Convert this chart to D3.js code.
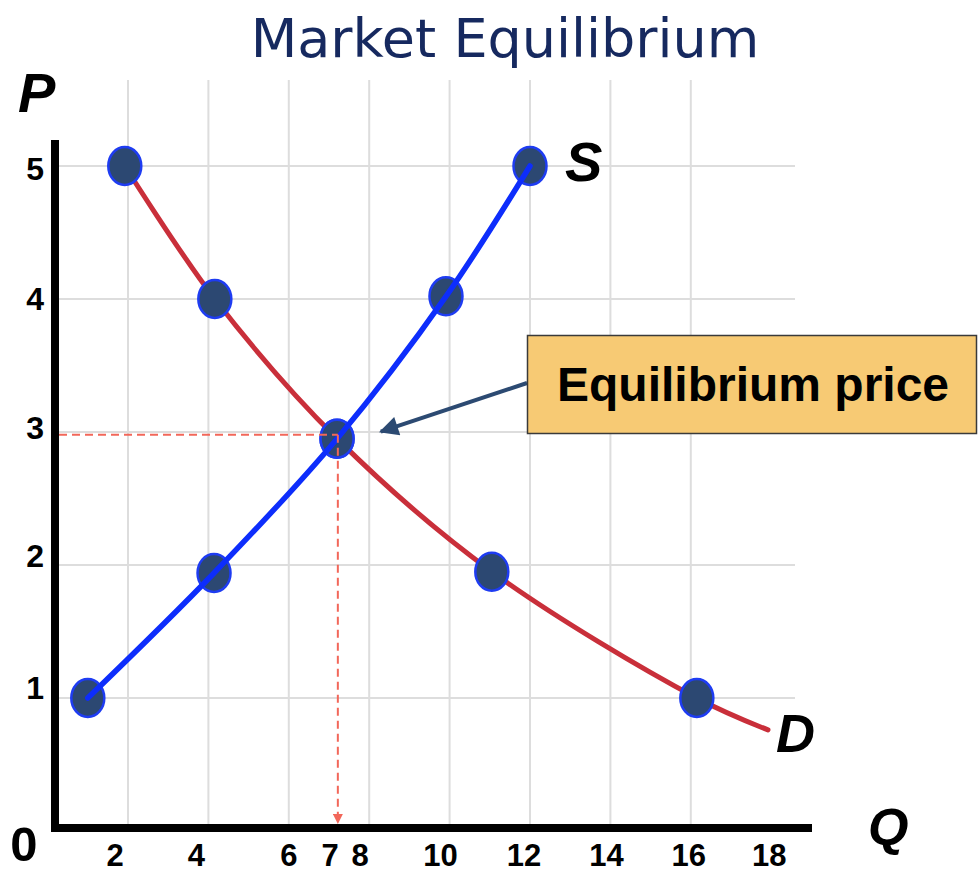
<!DOCTYPE html>
<html>
<head>
<meta charset="utf-8">
<script src="https://cdn.jsdelivr.net/npm/d3@7"></script>
<style>
  html, body { margin: 0; padding: 0; background: #fff; }
  svg { display: block; }
</style>
</head>
<body>
<svg id="chart" width="979" height="874"></svg>
<script>
// ---- data ----
const supplyQ = [1.0, 4.14, 7.2, 9.91, 12.0];
const supplyP = [1.0, 1.94, 2.95, 4.02, 5.0];
const demandQ = [1.92, 4.16, 7.2, 11.05, 16.15];
const demandP = [5.0, 4.0, 2.95, 1.95, 1.0];
// demand curve runs on past its last marked point
const demandTailQ = [17.92];
const demandTailP = [0.76];
const equilibriumQ = 7.22;
const equilibriumP = 2.98;
const xTicks = [2, 4, 6, 7, 8, 10, 12, 14, 16, 18];
const yTicks = [1, 2, 3, 4, 5];
const xGrid = [2, 4, 6, 8, 10, 12, 14, 16];
const yGrid = [1, 2, 3, 4, 5];

// ---- layout ----
const svg = d3.select("#chart");
const x = d3.scaleLinear().domain([0, 18]).range([47.6, 771.2]);
const y = d3.scaleLinear().domain([0, 5]).range([831, 166]);
const axisX = 55, axisY = 828, axisTop = 140, axisRight = 812;
const gridTop = 80, gridRight = 795;

// small hand offsets for tick labels
const xLabelNudge = {2: -13, 4: -12, 6: 0, 7: 1, 8: -9, 10: -9, 12: -6, 14: -4, 16: -2, 18: -2};
const yLabelNudge = {1: -11, 2: -10, 3: -5, 4: -1, 5: 2};

const font = "'Liberation Sans', Arial, Helvetica, sans-serif";

// title
svg.append("text")
  .attr("x", 505).attr("y", 57)
  .attr("text-anchor", "middle")
  .attr("font-family", "'DejaVu Sans', Verdana, sans-serif")
  .attr("font-size", 54)
  .attr("fill", "#16295f")
  .text("Market Equilibrium");

// grid
const grid = svg.append("g").attr("stroke", "#dddddd").attr("stroke-width", 2);
grid.selectAll("line.v").data(xGrid).join("line").attr("class", "v")
  .attr("x1", d => x(d)).attr("x2", d => x(d))
  .attr("y1", gridTop).attr("y2", axisY);
grid.selectAll("line.h").data(yGrid).join("line").attr("class", "h")
  .attr("x1", axisX).attr("x2", gridRight)
  .attr("y1", d => y(d)).attr("y2", d => y(d));

// axes
svg.append("path")
  .attr("d", `M${axisX},${axisTop}V${axisY}H${axisRight}`)
  .attr("fill", "none").attr("stroke", "#000").attr("stroke-width", 8)
  .attr("stroke-linejoin", "miter");

// tick labels
svg.append("g").selectAll("text").data(xTicks).join("text")
  .attr("x", d => x(d) + xLabelNudge[d]).attr("y", 866)
  .attr("text-anchor", "middle")
  .attr("font-family", font).attr("font-weight", "bold").attr("font-size", 31)
  .text(d => d);
svg.append("g").selectAll("text").data(yTicks).join("text")
  .attr("x", 44).attr("y", d => y(d) + yLabelNudge[d] + 12)
  .attr("text-anchor", "end")
  .attr("font-family", font).attr("font-weight", "bold").attr("font-size", 32)
  .text(d => d);

svg.append("text").attr("x", 24).attr("y", 861).attr("text-anchor", "middle")
  .attr("font-family", font).attr("font-weight", "bold").attr("font-size", 49).text("0");

const axisLabel = (t, px, py, size) => svg.append("text")
  .attr("x", px).attr("y", py)
  .attr("font-family", font).attr("font-weight", "bold").attr("font-style", "italic")
  .attr("font-size", size).text(t);
axisLabel("P", 18, 112, 56);
axisLabel("Q", 868, 845, 52);

// curves
const line = d3.line().x(d => x(d[0])).y(d => y(d[1])).curve(d3.curveCatmullRom.alpha(0.5));
const supply = supplyQ.map((q, i) => [q, supplyP[i]]);
const demand = demandQ.map((q, i) => [q, demandP[i]]);
const demandLine = demand.concat(demandTailQ.map((q, i) => [q, demandTailP[i]]));

svg.append("path").datum(demandLine)
  .attr("d", line).attr("fill", "none")
  .attr("stroke", "#c92f3a").attr("stroke-width", 5).attr("stroke-linecap", "round");

// markers
svg.append("g").selectAll("ellipse").data(supply.concat(demand)).join("ellipse")
  .attr("cx", d => x(d[0])).attr("cy", d => y(d[1]))
  .attr("rx", 16.5).attr("ry", 19)
  .attr("fill", "#2c4872").attr("stroke", "#1e3cf2").attr("stroke-width", 2.5);

svg.append("path").datum(supply)
  .attr("d", line).attr("fill", "none")
  .attr("stroke", "#0d2dfc").attr("stroke-width", 5.5).attr("stroke-linecap", "round");

// equilibrium guides
const defs = svg.append("defs");
defs.append("marker").attr("id", "redHead")
  .attr("viewBox", "0 0 10 10").attr("refX", 10).attr("refY", 5)
  .attr("markerWidth", 5).attr("markerHeight", 5).attr("orient", "auto")
  .append("path").attr("d", "M0,0L10,5L0,10Z").attr("fill", "#f2675a");

const guides = svg.append("g").attr("stroke", "#f2675a").attr("stroke-width", 2)
  .attr("stroke-dasharray", "8,5").attr("fill", "none");
guides.append("line")
  .attr("x1", axisX + 4).attr("x2", x(equilibriumQ))
  .attr("y1", y(equilibriumP)).attr("y2", y(equilibriumP));
guides.append("line")
  .attr("x1", x(equilibriumQ)).attr("x2", x(equilibriumQ))
  .attr("y1", y(equilibriumP)).attr("y2", axisY - 4)
  .attr("marker-end", "url(#redHead)");

// callout
defs.append("marker").attr("id", "navyHead")
  .attr("viewBox", "0 0 10 10").attr("refX", 9).attr("refY", 5)
  .attr("markerWidth", 5.5).attr("markerHeight", 4.8).attr("orient", "auto")
  .attr("markerUnits", "strokeWidth")
  .append("path").attr("d", "M0,0L10,5L0,10Z").attr("fill", "#2c4a72");

svg.append("line")
  .attr("x1", 527).attr("y1", 383)
  .attr("x2", x(equilibriumQ) + 43).attr("y2", y(equilibriumP) - 3)
  .attr("stroke", "#2c4a72").attr("stroke-width", 4)
  .attr("marker-end", "url(#navyHead)");

svg.append("rect")
  .attr("x", 527.5).attr("y", 335.5).attr("width", 449).attr("height", 98)
  .attr("fill", "#f7ca74").attr("stroke", "#3a3a3a").attr("stroke-width", 1.5);
svg.append("text")
  .attr("x", 557).attr("y", 401)
  .attr("font-family", font).attr("font-weight", "bold").attr("font-size", 48)
  .attr("fill", "#000")
  .text("Equilibrium price");

// curve labels
axisLabel("S", 565, 181, 56);
axisLabel("D", 776, 752, 54);
</script>
</body>
</html>
